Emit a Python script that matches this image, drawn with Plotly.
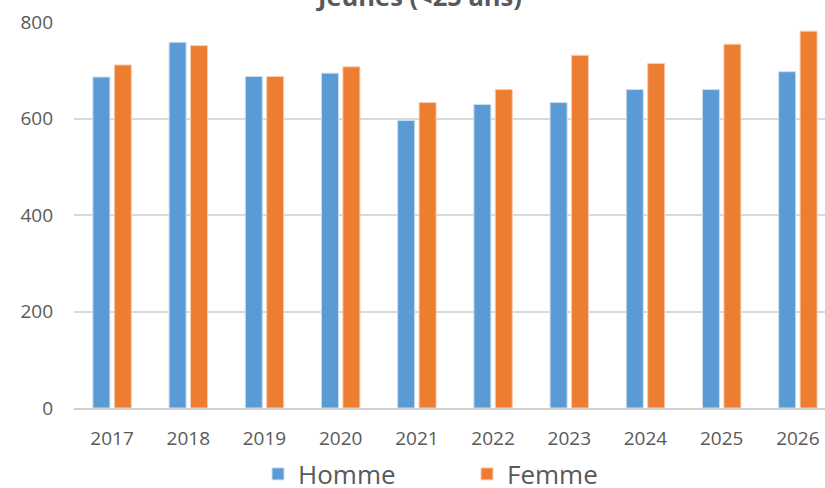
import plotly.graph_objects as go

years = ["2017", "2018", "2019", "2020", "2021", "2022", "2023", "2024", "2025", "2026"]
homme = [686, 758, 687, 694, 596, 629, 633, 660, 660, 697]
femme = [711, 751, 687, 707, 633, 660, 731, 714, 754, 781]
y_ticks = [0, 200, 400, 600, 800]
title_text = "Jeunes (<25 ans)"

FONT = "Open Sans"
GREY = "#595959"

fig = go.Figure()
fig.add_trace(go.Bar(x=years, y=homme, name="Homme",
                     marker=dict(color="#5B9BD5", line=dict(color="#C9DDF0", width=1))))
fig.add_trace(go.Bar(x=years, y=femme, name="Femme",
                     marker=dict(color="#ED7D31", line=dict(color="#F8CDB0", width=1))))

fig.update_layout(
    width=825, height=488,
    margin=dict(l=74, r=0, t=22, b=80, autoexpand=False),
    paper_bgcolor="white", plot_bgcolor="white",
    barmode="group", bargap=0.438, bargroupgap=0.206,
    title=dict(text="<b>" + title_text + "</b>", x=420 / 825, xanchor="center",
               yref="container", y=1 - 6 / 488, yanchor="bottom",
               pad=dict(b=0, t=0, l=0, r=0),
               font=dict(family=FONT, size=25.5, color=GREY)),
    font=dict(family=FONT, color=GREY),
    xaxis=dict(type="category", range=[-0.5, 9.356], showgrid=False,
               showline=True, linecolor="#D0D0D0", linewidth=1.5,
               ticks="", ticklabelstandoff=12,
               tickfont=dict(size=19, color=GREY)),
    yaxis=dict(range=[0, 800], tickvals=y_ticks, showgrid=True, gridcolor="#D9D9D9",
               gridwidth=1.5, zeroline=False, showline=False, ticks="",
               ticklabelstandoff=20,
               tickfont=dict(size=19, color=GREY)),
    legend=dict(orientation="h", xref="container", x=258 / 825, xanchor="left",
                yref="container", y=14 / 488, yanchor="middle",
                entrywidth=164, entrywidthmode="pixels",
                font=dict(size=26, color=GREY)),
    showlegend=True,
)

fig.write_html("out.html", config={"displayModeBar": False},
               post_script="document.body.style.margin='0';")
